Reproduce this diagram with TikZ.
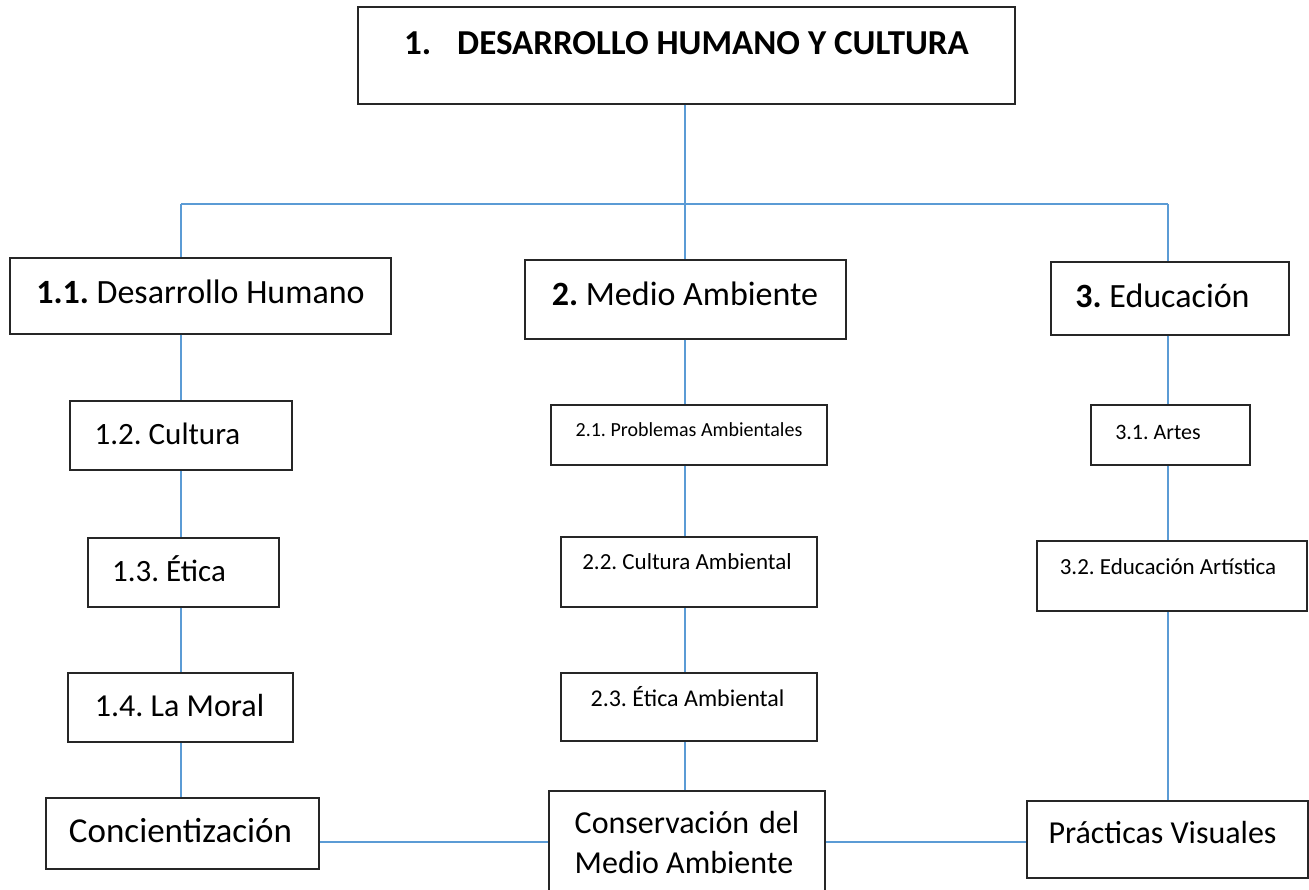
\documentclass[tikz,border=0pt]{standalone}
\usepackage{fontspec}
\setmainfont{Carlito}
\definecolor{conncol}{HTML}{5B9BD5}
\definecolor{boxcol}{HTML}{262626}
\tikzset{
  x=1pt, y=1pt,
  box/.style={draw=boxcol, line width=1.5pt, fill=white, inner sep=0pt, rectangle},
  txt/.style={inner sep=0pt, text=black, anchor=center, font=\frenchspacing},
  conn/.style={draw=conncol, line width=2.5pt},
}
\newcommand{\fs}[1]{\fontsize{#1}{#1}\selectfont}
\begin{document}
\begin{tikzpicture}
\useasboundingbox (0,0) rectangle (1309,-890);
\coordinate (colA) at (181,0);
\coordinate (colB) at (685,0);
\coordinate (colC) at (1168,0);
\coordinate (hub) at (685,-204);
\coordinate (hubL) at (181,-204);
\coordinate (hubR) at (1168,-204);
\coordinate (hy) at (0,-842);

% boxes
\node[box, minimum width=657, minimum height=97] (top) at (686.5,-55.5) {};
\node[box, minimum width=381, minimum height=76] (b11) at (200.5,-296) {};
\node[box, minimum width=321, minimum height=79] (b2) at (685.5,-299.5) {};
\node[box, minimum width=238, minimum height=73] (b3) at (1170,-298.5) {};
\node[box, minimum width=222, minimum height=69] (b12) at (181,-435.5) {};
\node[box, minimum width=191, minimum height=69] (b13) at (183.5,-572.5) {};
\node[box, minimum width=225, minimum height=69] (b14) at (180.5,-707.5) {};
\node[box, minimum width=273, minimum height=71] (bc) at (182.5,-833.5) {};
\node[box, minimum width=276, minimum height=60] (b21) at (689,-435) {};
\node[box, minimum width=256, minimum height=70] (b22) at (689,-572) {};
\node[box, minimum width=256, minimum height=68] (b23) at (689,-707) {};
\node[box, minimum width=276, minimum height=100] (bcm) at (687,-841) {};
\node[box, minimum width=159, minimum height=60] (b31) at (1170.5,-435) {};
\node[box, minimum width=270, minimum height=70] (b32) at (1172,-576) {};
\node[box, minimum width=281, minimum height=77] (bp) at (1167.5,-839.5) {};

% connectors
\draw[conn] (hub |- top.south) -- (hub);
\draw[conn] (hubL) -- (hubR);
\draw[conn] (hubL) -- (hubL |- b11.north);
\draw[conn] (hub) -- (hub |- b2.north);
\draw[conn] (hubR) -- (hubR |- b3.north);
\draw[conn] (colA |- b11.south) -- (colA |- b12.north);
\draw[conn] (colA |- b12.south) -- (colA |- b13.north);
\draw[conn] (colA |- b13.south) -- (colA |- b14.north);
\draw[conn] (colA |- b14.south) -- (colA |- bc.north);
\draw[conn] (colB |- b2.south) -- (colB |- b21.north);
\draw[conn] (colB |- b21.south) -- (colB |- b22.north);
\draw[conn] (colB |- b22.south) -- (colB |- b23.north);
\draw[conn] (colB |- b23.south) -- (colB |- bcm.north);
\draw[conn] (colC |- b3.south) -- (colC |- b31.north);
\draw[conn] (colC |- b31.south) -- (colC |- b32.north);
\draw[conn] (colC |- b32.south) -- (colC |- bp.north);
\draw[conn] (bc.east |- hy) -- (bcm.west |- hy);
\draw[conn] (bcm.east |- hy) -- (bp.west |- hy);

% texts
\node[txt] (t0) at (686.5,-43) {\fs{35}\bfseries 1.\hspace{26pt}DESARROLLO HUMANO Y CULTURA};
\node[txt] (t11) at (200.5,-292) {\fs{34}\textbf{1.1.} Desarrollo Humano};
\node[txt] (t2) at (685,-294) {\fs{34}\textbf{2.} Medio Ambiente};
\node[txt] (t3) at (1162.5,-296) {\fs{34}\textbf{3.} Educación};
\node[txt] (t12) at (167.5,-434) {\fs{31}1.2. Cultura};
\node[txt] (t13) at (169,-569) {\fs{31}1.3. Ética};
\node[txt] (t14) at (179.5,-706) {\fs{32}1.4. La Moral};
\node[txt] (tc) at (180.5,-831) {\fs{35}Concientización};
\node[txt] (t21) at (689,-430) {\fs{20}2.1. Problemas Ambientales};
\node[txt] (t22) at (687,-562) {\fs{23}2.2. Cultura Ambiental};
\node[txt] (t23) at (687.5,-697) {\fs{24}2.3. Ética Ambiental};
\node[txt, align=left, font=\frenchspacing\fontsize{32}{40}\selectfont] (tcm) at (687,-843) {Conservación\hspace{10pt}del\\Medio Ambiente};
\node[txt] (t31) at (1158,-432) {\fs{22}3.1. Artes};
\node[txt] (t32) at (1168,-567) {\fs{23}3.2. Educación Artística};
\node[txt] (tp) at (1162.5,-833) {\fs{32}Prácticas Visuales};
\end{tikzpicture}
\end{document}
